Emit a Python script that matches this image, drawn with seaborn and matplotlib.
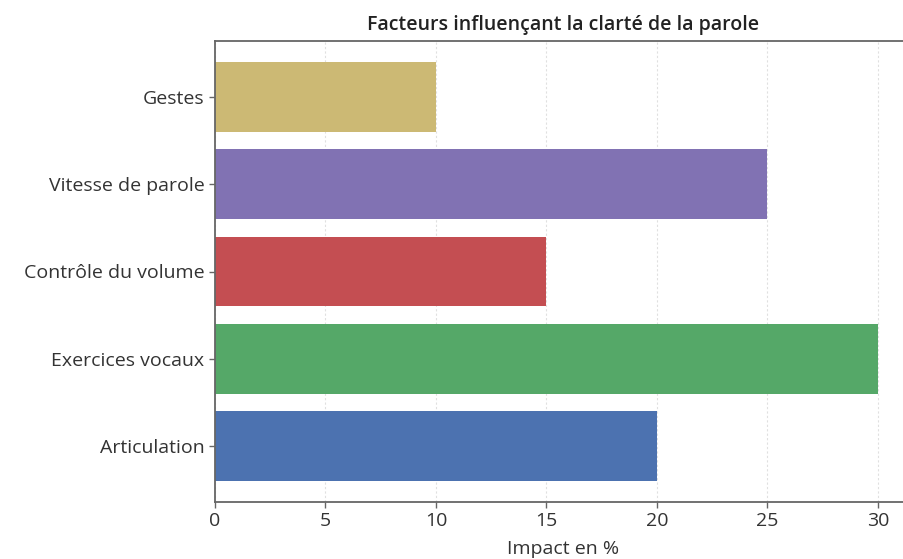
import matplotlib
matplotlib.use("Agg")
import matplotlib.pyplot as plt
import seaborn as sns
import pandas as pd

# data, top to bottom as shown
facteurs = ["Gestes", "Vitesse de parole", "Contrôle du volume",
            "Exercices vocaux", "Articulation"]
impact = [10, 25, 15, 30, 20]

deep = sns.color_palette("deep")
couleurs = [deep[8], deep[4], deep[3], deep[2], deep[0]]

df = pd.DataFrame({"Facteur": facteurs, "Impact": impact})

sns.set_style("white")
plt.rcParams["font.family"] = ["Open Sans", "DejaVu Sans"]

fig, ax = plt.subplots(figsize=(9.04, 5.59), dpi=100)
fig.subplots_adjust(left=215 / 904, right=911 / 904, top=1 - 41 / 559, bottom=1 - 502 / 559)

sns.barplot(data=df, y="Facteur", x="Impact", hue="Facteur", order=facteurs,
            palette=couleurs, saturation=1, legend=False, width=0.8,
            linewidth=0, ax=ax)

ax.set_xlim(0, 31.5)
ax.set_ylim(len(facteurs) - 1 + 0.64, -0.64)
ax.set_xticks([0, 5, 10, 15, 20, 25, 30])
ax.xaxis.grid(True, linestyle=(0, (2, 2)), color="#e0e0e0", linewidth=0.8)
ax.set_axisbelow(True)

for s in ax.spines.values():
    s.set_color("#666666")
    s.set_linewidth(1.3)

ax.tick_params(axis="both", which="both", length=4, width=1, color="#666666",
               labelsize=14, labelcolor="#333333", left=True, bottom=True)
ax.set_xlabel("Impact en %", fontsize=14, color="#333333", labelpad=7)
ax.set_ylabel("")
ax.set_title("Facteurs influençant la clarté de la parole", fontsize=14,
             fontweight="semibold", color="#222222", pad=8)

fig.savefig("out.png", dpi=100)
